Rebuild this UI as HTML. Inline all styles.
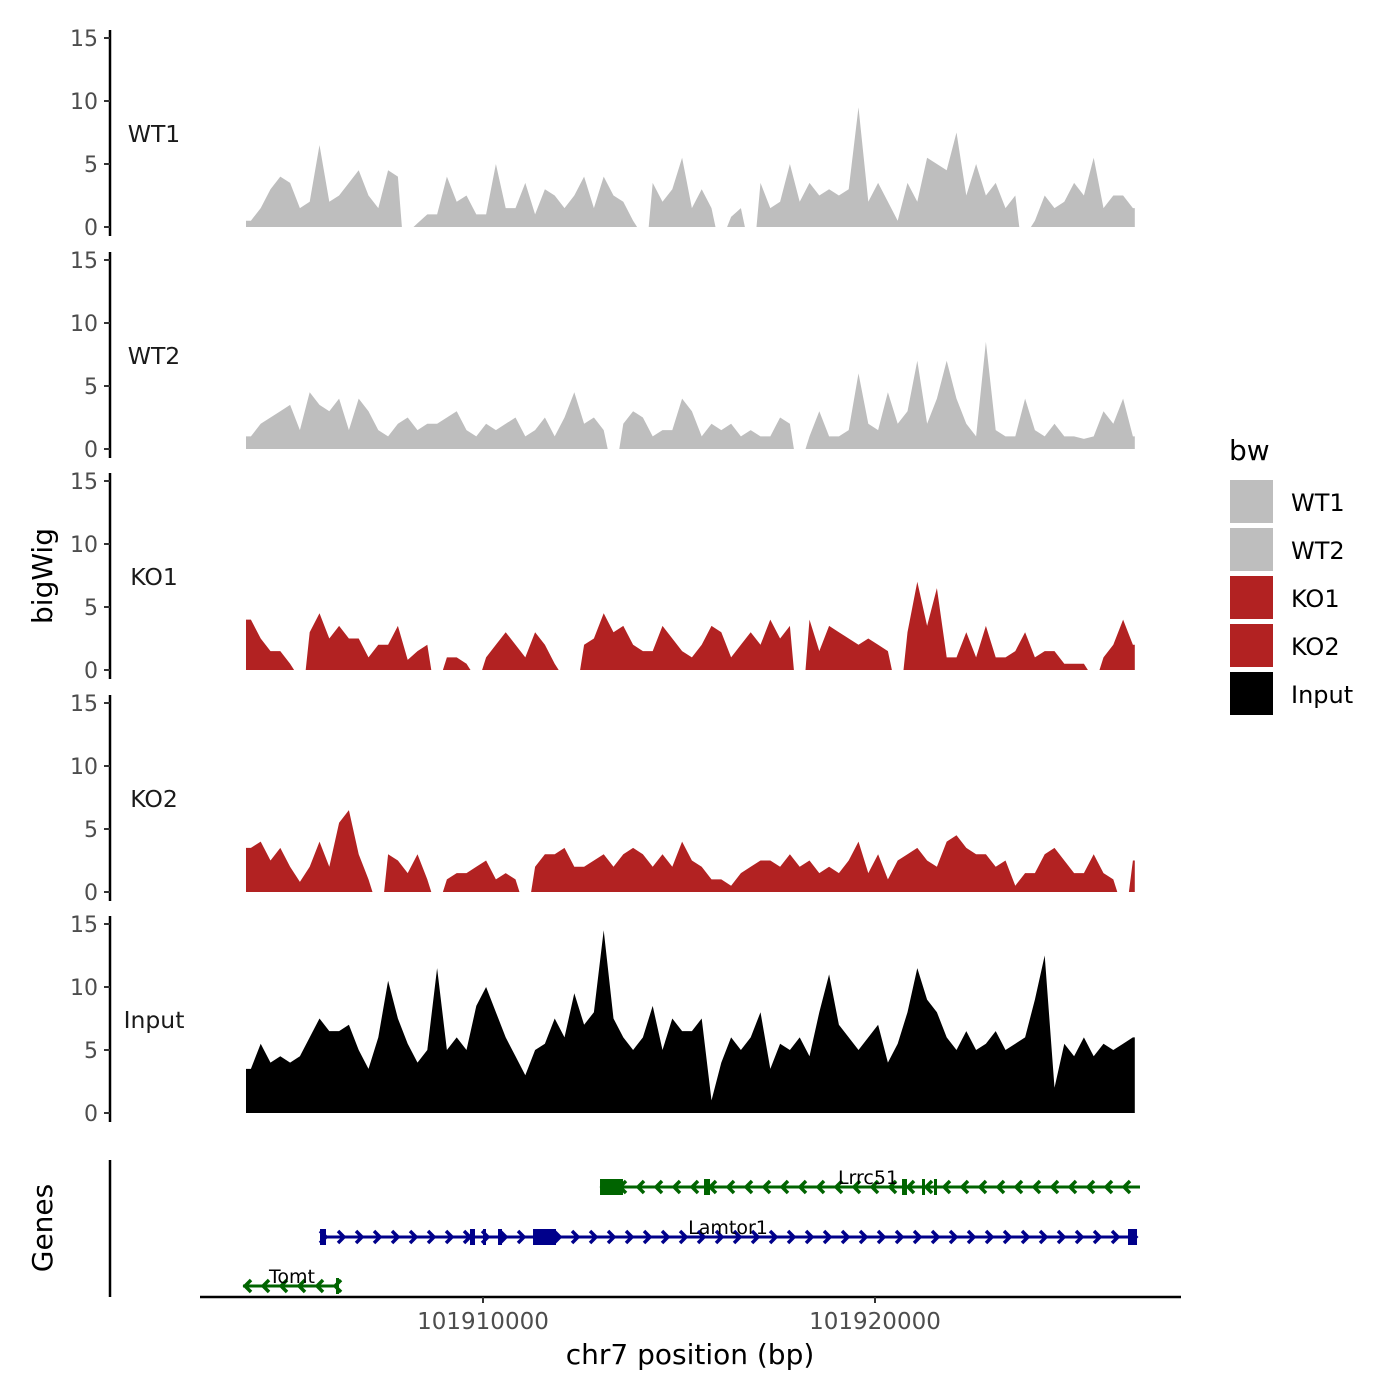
<!DOCTYPE html>
<html><head><meta charset="utf-8"><style>
html,body{margin:0;padding:0;background:#fff}
svg{display:block;font-family:"DejaVu Sans","Liberation Sans",sans-serif}
</style></head><body>
<svg id="chart" width="1400" height="1400" viewBox="0 0 1400 1400">
<g id="tracks"></g>
<g id="genes"></g>
<text x="52" y="576" transform="rotate(-90 52 576)" text-anchor="middle" font-size="28" fill="#000">bigWig</text>
<text x="52" y="1228" transform="rotate(-90 52 1228)" text-anchor="middle" font-size="28" fill="#000">Genes</text>
<text x="690" y="1364" text-anchor="middle" font-size="28" fill="#000">chr7 position (bp)</text>
<g id="legend">
<text x="1229" y="460" font-size="28" fill="#000">bw</text>
</g>
</svg>
<script>
const sampleNames = ["WT1","WT2","KO1","KO2","Input"];
const sampleColors = ["#bebebe","#bebebe","#b22222","#b22222","#000000"];
const binStart = 101903954;
const binSize = 250;
const yTicks = [0,5,10,15];
const xTicks = [101910000,101920000];
const xTickLabels = ["101910000","101920000"];
const N = null;
const wt1 = [0.5,1.5,3,4,3.5,1.5,2,6.5,2,2.5,3.5,4.5,2.5,1.5,4.5,4,N,0.3,1,1,4,2,2.5,1,1,5,1.5,1.5,3.5,1,3,2.5,1.5,2.5,4,1.5,4,2.5,2,0.5,N,3.5,2,3,5.5,1.5,3,1.5,N,0.8,1.5,N,3.5,1.5,2,5,2,3.5,2.5,3,2.5,3,9.5,2,3.5,2,0.5,3.5,2,5.5,5,4.5,7.5,2.5,5,2.5,3.5,1.5,2.5,N,0.5,2.5,1.5,2,3.5,2.5,5.5,1.5,2.5,2.5,1.5];
const wt2 = [1,2,2.5,3,3.5,1.5,4.5,3.5,3,4,1.5,4,3,1.5,1,2,2.5,1.5,2,2,2.5,3,1.5,1,2,1.5,2,2.5,1,1.5,2.5,1,2.5,4.5,2,2.5,1.5,N,2,3,2.5,1,1.5,1.5,4,3,1,2,1.5,2,1,1.5,1,1,2.5,2,N,1,3,1,1,1.5,6,2,1.5,4.5,2,3,7,2,4,7,4,2,1,8.5,1.5,1,1,4,1.5,1,2,1,1,0.8,1,3,2,4,1];
const ko1 = [4,2.5,1.5,1.5,0.5,N,3,4.5,2.5,3.5,2.5,2.5,1,2,2,3.5,0.8,1.5,2,N,1,1,0.5,N,1,2,3,2,1,3,2,0.5,N,N,2,2.5,4.5,3,3.5,2,1.5,1.5,3.5,2.5,1.5,1,2,3.5,3,1,2,3,2,4,2.5,3.5,N,4,1.5,3.5,3,2.5,2,2.5,2,1.5,N,3,7,3.5,6.5,1,1,3,1,3.5,1,1,1.5,3,1,1.5,1.5,0.5,0.5,0.5,N,1,2,4,2];
const ko2 = [3.5,4,2.5,3.5,2,0.8,2,4,2,5.5,6.5,3,1,N,3,2.5,1.5,3,1,N,1,1.5,1.5,2,2.5,1,1.5,1,N,2,3,3,3.5,2,2,2.5,3,2,3,3.5,3,2,3,2,4,2.5,2,1,1,0.5,1.5,2,2.5,2.5,2,3,2,2.5,1.5,2,1.5,2.5,4,1.5,3,1,2.5,3,3.5,2.5,2,4,4.5,3.5,3,3,2,2.5,0.5,1.5,1.5,3,3.5,2.5,1.5,1.5,3,1.5,1,N,2.5];
const input = [3.5,5.5,4,4.5,4,4.5,6,7.5,6.5,6.5,7,5,3.5,6,10.5,7.5,5.5,4,5,11.5,5,6,5,8.5,10,8,6,4.5,3,5,5.5,7.5,6,9.5,7,8,14.5,7.5,6,5,6,8.5,5,7.5,6.5,6.5,7.5,1,4,6,5,6,8,3.5,5.5,5,6,4.5,8,11,7,6,5,6,7,4,5.5,8,11.5,9,8,6,5,6.5,5,5.5,6.5,5,5.5,6,9,12.5,2,5.5,4.5,6,4.5,5.5,5,5.5,6];
const seriesValues = [wt1,wt2,ko1,ko2,input];

const geneNames = ["Lrrc51","Lamtor1","Tomt"];
const geneStrand = ["-","+","-"];
const geneStart = [101912985,101905842,101903878];
const geneEnd = [101926760,101926633,101906301];
const geneColors = ["#006400","#00008b","#006400"];
const geneExons = [
 [[101912985,101913571],[101915638,101915791],[101920689,101920816],[101921199,101921250],[101921505,101921556]],
 [[101905842,101905995],[101909668,101909796],[101910000,101910051],[101910383,101910485],[101911276,101911862],[101926454,101926684]],
 [[101906250,101906301]]
];

const NS="http://www.w3.org/2000/svg";
function mk(tag,attrs,parent){const e=document.createElementNS(NS,tag);for(const k in attrs)e.setAttribute(k,attrs[k]);parent.appendChild(e);return e;}
const xScale = bp => 483 + (bp-101910000)*0.0392;
const panelY0 = [227,449,670,892,1113];
const yPx = 12.6;

const tracks=document.getElementById('tracks');
sampleNames.forEach((name,p)=>{
  const y0=panelY0[p];
  const yScale=v=>y0-v*yPx;
  const g=mk('g',{},tracks);
  
  
  const vals=seriesValues[p];
  let segs=[],cur=[];
  vals.forEach((v,i)=>{
    const x=xScale(binStart+(i+0.5)*binSize);
    if(v===null){if(cur.length)segs.push(cur);cur=[];}
    else cur.push([x,v,i]);
  });
  if(cur.length)segs.push(cur);
  segs.forEach(s=>{
    const first=s[0],last=s[s.length-1];
    let d;
    if(first[2]===0){const x0=xScale(binStart);d='M'+x0+','+y0+' L'+x0+','+yScale(first[1]);}
    else d='M'+(first[0]-4)+','+y0;
    s.forEach(pt=>{d+=' L'+pt[0].toFixed(1)+','+yScale(pt[1]).toFixed(1);});
    if(last[2]===vals.length-1){const x1=xScale(binStart+vals.length*binSize)-3;d+=' L'+x1+','+yScale(last[1])+' L'+x1+','+y0;}
    else d+=' L'+(last[0]+4)+','+y0;
    d+=' Z';
    const a=mk('path',{d:d,fill:sampleColors[p]},g);
    
    
  });
  const ax=mk('line',{x1:110,x2:110,y1:yScale(15)-8,y2:y0+9,stroke:'#000','stroke-width':2.5},g);
  
  
  yTicks.forEach(t=>{
    mk('line',{x1:104,x2:110,y1:yScale(t),y2:yScale(t),stroke:'#333','stroke-width':2},g);
    const tl=mk('text',{x:98,y:yScale(t)+8,'text-anchor':'end','font-size':22,fill:'#4d4d4d'},g);
    tl.textContent=t;
    
    
  });
  const lb=mk('text',{x:154,y:y0-85,'text-anchor':'middle','font-size':23.5,fill:'#1a1a1a'},g);
  lb.textContent=name;
  
  
});

const genes=document.getElementById('genes');
const geneY=[1187,1237,1286];
const labelX=[868,728,292];
mk('line',{x1:110,x2:110,y1:1160,y2:1297,stroke:'#000','stroke-width':2.5},genes);
geneNames.forEach((n,k)=>{
  const g=mk('g',{},genes);
  
  
  const y=geneY[k],c=geneColors[k];
  const xa=xScale(geneStart[k]),xb=xScale(geneEnd[k]);
  mk('line',{x1:xa,x2:xb,y1:y,y2:y,stroke:c,'stroke-width':3},g);
  for(let x=xa+4;x<=xb+1;x+=18){
    const d=geneStrand[k]==='+'?`M${x-4},${y-6} L${x+2},${y} L${x-4},${y+6}`:`M${x+4},${y-6} L${x-2},${y} L${x+4},${y+6}`;
    mk('path',{d:d,stroke:c,'stroke-width':3.5,fill:'none'},g);
  }
  geneExons[k].forEach(e=>{
    const ex0=xScale(e[0]),ex1=xScale(e[1]);
    const r=mk('rect',{x:ex0,y:y-8,width:Math.max(ex1-ex0,3),height:16,fill:c},g);
    
    
  });
  const t=mk('text',{x:labelX[k],y:y-3,'text-anchor':'middle','font-size':19,fill:'#000'},g);
  t.textContent=n;
  
  
});
const xa=mk('line',{x1:200,x2:1181,y1:1297,y2:1297,stroke:'#000','stroke-width':2.5},genes);


xTicks.forEach((t,i)=>{
  mk('line',{x1:xScale(t),x2:xScale(t),y1:1297,y2:1303,stroke:'#333','stroke-width':2},genes);
  const tl=mk('text',{x:xScale(t),y:1329,'text-anchor':'middle','font-size':23,fill:'#4d4d4d'},genes);
  tl.textContent=xTickLabels[i];
  
  
});
const lg=document.getElementById('legend');
sampleNames.forEach((n,i)=>{
  const y=480+i*48;
  const r=mk('rect',{x:1230,y:y,width:43,height:43,fill:sampleColors[i]},lg);
  
  
  const t=mk('text',{x:1291,y:y+31,'font-size':24,fill:'#000'},lg);
  t.textContent=n;
  
  
});
</script>
</body></html>
